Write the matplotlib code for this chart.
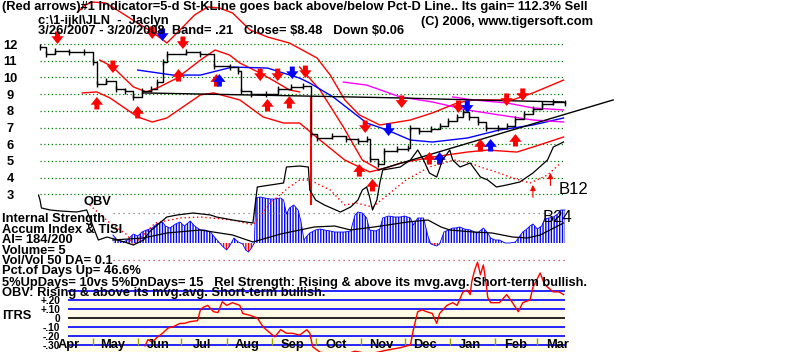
import numpy as np
import matplotlib.pyplot as plt

plt.rcParams['font.family'] = ['Liberation Sans Narrow', 'Liberation Sans', 'DejaVu Sans']
plt.rcParams['hatch.linewidth'] = 1.0

# x values are calendar days after 3/26/2007
price_day = [0, 4, 10, 20, 30, 36, 39, 45, 52, 58, 64, 70, 76, 80, 84, 87, 100, 110, 119, 130,
             136, 138, 145, 155, 163, 172, 180, 186, 190, 200, 210, 218, 224, 226, 232, 236, 245,
             252, 254, 260, 268, 274, 280, 286, 290, 294, 300, 306, 314, 320, 326, 332, 338, 344,
             352, 360]
price_val = [11.8, 11.4, 11.6, 11.5, 11.5, 10.9, 9.6, 9.8, 9.3, 9.2, 8.8, 9.2, 9.3, 9.7, 10.9,
             11.4, 11.5, 11.4, 10.7, 10.6, 10.4, 9.2, 9.0, 9.0, 9.3, 9.4, 9.5, 6.6, 6.4, 6.5, 6.3,
             6.2, 6.3, 5.1, 4.8, 5.6, 5.7, 5.8, 7.0, 6.8, 6.9, 7.1, 7.4, 7.6, 7.9, 7.6, 7.3, 7.0,
             7.0, 7.1, 7.5, 7.8, 8.1, 8.4, 8.5, 8.48]

upper_day = [26, 31, 36, 45, 55, 69, 77, 87, 96, 106, 115, 123, 132, 144, 156, 171, 190, 199,
             209, 219, 233, 254, 269, 286, 297, 324, 338, 359]
upper_val = [13.92, 14.34, 14.51, 14.46, 13.92, 13.14, 12.72, 12.06, 12.84, 13.74, 14.22, 14.16,
             13.86, 12.84, 12.42, 12.06, 11.16, 10.14, 8.65, 7.75, 7.15, 7.45, 7.87, 8.47, 8.65,
             8.65, 9.07, 9.84]
lower_day = [29, 39, 48, 67, 77, 87, 110, 119, 137, 153, 167, 178, 192, 209, 226, 237, 247, 269,
             293, 307, 327, 338, 359]
lower_val = [9.07, 9.13, 8.77, 7.63, 7.33, 7.57, 8.95, 9.07, 8.65, 7.63, 7.27, 7.27, 6.25, 5.05,
             4.34, 4.57, 4.87, 5.23, 5.53, 5.65, 5.53, 5.83, 6.43]
inner_day = [41, 50, 64, 73, 82, 94, 110, 120, 130, 137, 151, 163, 171, 178]
inner_val = [11.04, 10.62, 9.43, 9.13, 9.43, 9.96, 11.04, 11.64, 11.34, 10.86, 10.26, 9.66,
             9.25, 9.13]
drop_day = [178, 192, 208, 221, 233]
drop_val = [10.62, 9.25, 7.03, 5.05, 4.46]

ma_day = [67, 91, 110, 132, 156, 178, 185, 201, 224, 238, 254, 269, 293, 315, 338, 359]
ma_val = [10.44, 10.14, 10.14, 10.62, 10.56, 9.96, 9.66, 8.83, 7.27, 6.85, 6.25, 6.13, 6.37,
          6.85, 7.15, 7.57]
mag1_day = [208, 224, 247, 269, 293, 315, 338, 359]
mag1_val = [9.72, 9.54, 8.83, 8.53, 8.05, 7.75, 7.45, 7.33]
mag2_day = [283, 297, 320, 338, 359]
mag2_val = [8.83, 8.65, 8.47, 8.17, 8.05]
flat_day = [71, 178, 247, 297, 359]
flat_val = [9.07, 8.89, 8.77, 8.65, 8.53]
trend_day = [232, 393]
trend_val = [4.46, 8.65]

# arrows: (day, price at tip)
red_down = [(12, 12.0), (50, 10.26), (77, 12.3), (98, 11.7), (151, 9.78), (163, 9.78),
            (182, 9.96), (223, 6.67), (248, 8.17), (287, 7.87), (320, 8.29), (331, 8.59)]
blue_down = [(84, 12.18), (173, 9.9), (239, 6.49), (293, 7.87)]
red_up = [(39, 8.83), (67, 8.29), (95, 10.5), (121, 10.2), (156, 8.71), (171, 8.89),
          (219, 4.81), (228, 3.92), (267, 5.53), (302, 6.31), (326, 6.61)]
blue_up = [(123, 10.2), (274, 5.53), (309, 6.31)]
thin_up = [(338, 3.56), (350, 4.28)]

# lower panel: OBV, Accum index, TISI average, OBV average
obv_day = [-1, 0, 1, 7, 14, 25, 32, 36, 40, 46, 53, 58, 64, 71, 75, 82, 87, 94, 105, 117, 121,
           132, 146, 149, 158, 167, 169, 178, 184, 185, 189, 195, 206, 213, 218, 221, 224, 226,
           228, 231, 233, 235, 247, 254, 259, 263, 267, 272, 276, 281, 283, 288, 295, 302, 307,
           313, 320, 329, 338, 348, 352, 359]
obv_val = [48, 43, 35, 33, 32, 31, 33, 18, 3, 6, 3, 1, -2, 3, 11, 20, 26, 28, 30, 28, 26, 23,
           20, 56, 58, 60, 76, 77, 76, 53, 43, 38, 31, 36, 43, 53, 56, 46, 33, 43, 60, 73, 76,
           83, 93, 83, 70, 66, 83, 93, 83, 76, 80, 66, 63, 56, 58, 61, 70, 83, 96, 101]
obvma_day = [34, 48, 60, 64, 79, 96, 110, 132, 146, 158, 171, 178, 185, 199, 209, 217, 228, 240,
             251, 267, 284, 295, 302, 313, 324, 336, 348, 357]
obvma_val = [38, 20, 8, -2, 20, 25, 26, 23, 18, 40, 56, 63, 63, 53, 38, 40, 36, 50, 63, 76, 83,
             80, 76, 71, 65, 60, 68, 80]
ai_day = [50, 53, 57, 60, 64, 67, 70, 73, 77, 80, 84, 86, 89, 93, 96, 99, 103, 106, 110, 113,
          117, 119, 122, 125, 128, 130, 133, 136, 139, 141, 143, 145, 147, 148, 151, 154, 158,
          161, 165, 167, 169, 171, 174, 177, 179, 181, 183, 185, 189, 192, 195, 199, 202, 206,
          209, 213, 216, 218, 221, 224, 226, 230, 233, 235, 239, 243, 247, 250, 254, 256, 259,
          263, 266, 268, 272, 274, 277, 280, 283, 285, 288, 291, 295, 298, 300, 304, 307, 309,
          312, 315, 319, 322, 326, 328, 331, 333, 336, 338, 341, 344, 346, 349, 352, 355, 357,
          360]
ai_val = [8, 3, 1, 3, 9, 7, 11, 13, 15, 19, 21, 17, 15, 19, 21, 17, 22, 17, 13, 13, 11, 7, 2,
          -3, -7, -3, 5, 1, -1, -7, -9, -5, 0, 45, 46, 45, 44, 44, 45, 43, 29, 35, 38, 33, 21, 3,
          7, 10, 13, 14, 13, 12, 11, 11, 11, 12, 28, 31, 30, 25, 13, 12, 14, 25, 27, 26, 26, 27,
          25, 18, 25, 25, 7, -1, -3, -1, 11, 13, 15, 15, 16, 14, 13, 11, 10, 15, 10, 5, 3, 3, 0,
          0, 1, 5, 11, 13, 17, 19, 14, 17, 24, 25, 26, 29, 33, 33]
tisi_day = [50, 71, 87, 110, 132, 146, 165, 188, 202, 213, 229, 252, 266, 275, 281, 297, 310,
            324, 334, 343, 359]
tisi_val = [3, 5, 10, 13, 8, 1, 9, 16, 17, 13, 16, 21, 23, 16, 13, 11, 10, 6, 5, 8, 20]

# ITRS
itrs_day = [72, 74, 77, 80, 84, 88, 91, 96, 99, 103, 108, 110, 112, 115, 119, 122, 125, 128,
            132, 137, 139, 144, 149, 153, 158, 161, 165, 169, 173, 178, 183, 185, 187, 192, 206,
            216, 226, 237, 247, 254, 256, 259, 262, 265, 269, 272, 274, 279, 283, 286, 290, 293,
            295, 296, 298, 300, 302, 304, 306, 307, 309, 315, 320, 324, 328, 331, 336, 338, 343,
            346, 352, 356, 359]
itrs_val = [-0.31, -0.24, -0.27, -0.22, -0.17, -0.11, -0.10, -0.06, -0.06, -0.04, -0.03, 0.09,
            0.12, 0.14, 0.07, 0.06, 0.18, 0.14, 0.17, 0.14, 0.05, 0.03, 0.0, -0.10, -0.17, -0.21,
            -0.13, -0.17, -0.17, -0.19, -0.13, -0.17, -0.32, -0.38, -0.42, -0.37, -0.40, -0.36,
            -0.33, -0.30, -0.13, 0.07, 0.09, 0.07, 0.05, -0.06, 0.05, 0.14, 0.17, 0.14, 0.29,
            0.31, 0.26, 0.40, 0.53, 0.62, 0.48, 0.59, 0.37, 0.23, 0.17, 0.17, 0.26, 0.17, 0.07,
            0.17, 0.20, 0.34, 0.50, 0.37, 0.29, 0.29, 0.26]
itrs_levels = [0.3, 0.2, 0.1, 0.0, -0.1, -0.2, -0.3]
itrs_ticks = [0.2, 0.1, 0.0, -0.1, -0.2, -0.3]
itrs_labels = ['+.20', '+.10', '0', '-.10', '-.20', '-.30']

start = np.datetime64('2007-03-26')
month_names = ['Apr', 'May', 'Jun', 'Jul', 'Aug', 'Sep', 'Oct', 'Nov', 'Dec', 'Jan', 'Feb', 'Mar']
month_mid = [(np.datetime64(m) - start).astype(int) for m in
             ['2007-04-15', '2007-05-15', '2007-06-15', '2007-07-15', '2007-08-15', '2007-09-15',
              '2007-10-15', '2007-11-15', '2007-12-15', '2008-01-15', '2008-02-15', '2008-03-15']]
month_start = [(np.datetime64(m) - start).astype(int) for m in
               ['2007-05-01', '2007-06-01', '2007-07-01', '2007-08-01', '2007-09-01', '2007-10-01',
                '2007-11-01', '2007-12-01', '2008-01-01', '2008-02-01', '2008-03-01']]

W, H = 800, 352
fig = plt.figure(figsize=(8, 3.52), dpi=100)
XL = (-1.37, 397.7)
RED, BLUE = '#ff0000', '#0000ff'
bold = dict(fontweight='bold', fontsize=9.3, color='black')


def px_axes(top, bottom, left=38, right=620):
    ax = fig.add_axes([left / W, 1 - bottom / H, (right - left) / W, (bottom - top) / H])
    ax.patch.set_visible(False)
    for s in ax.spines.values():
        s.set_visible(False)
    ax.set_xticks([])
    ax.set_xlim(*XL)
    return ax


# ---- price panel
axp = px_axes(0, 255)
axp.set_ylim(-0.635, 14.635)
axp.set_yticks(range(3, 13))
axp.set_yticklabels([str(v) for v in range(3, 13)], **bold)
axp.tick_params(axis='y', length=0, pad=20)
for lab in axp.get_yticklabels():
    lab.set_horizontalalignment('center')
axp.hlines(range(3, 13), 0, 360, colors='#008000', linestyles=(0, (1, 2)), lw=0.9)

axp.plot(upper_day, upper_val, color=RED, lw=1)
axp.plot(lower_day, lower_val, color=RED, lw=1)
axp.plot(inner_day, inner_val, color=RED, lw=1)
axp.plot(drop_day, drop_val, color=RED, lw=1)
axp.plot(ma_day, ma_val, color=BLUE, lw=1)
axp.plot(mag1_day, mag1_val, color='#ff00ff', lw=1)
axp.plot(mag2_day, mag2_val, color='#ff00ff', lw=1)
axp.plot(flat_day, flat_val, color='black', lw=1)
axp.plot(trend_day, trend_val, color='black', lw=1)
axp.vlines(186, 2.36, 8.83, colors=RED, lw=1.5)
axp.plot(price_day, price_val, color='black', lw=1, drawstyle='steps-post',
         marker='|', markersize=4, markevery=1)


def arrow(ax, d, p, up, color, thin=False):
    style = '-|>' if thin else 'simple,head_width=1.1,head_length=0.7,tail_width=0.45'
    ax.annotate('', xy=(d, p), xytext=(0, -9 if up else 9), textcoords='offset points',
                arrowprops=dict(arrowstyle=style, color=color, lw=0.8 if thin else 0,
                                shrinkA=0, shrinkB=0, mutation_scale=8))


for d, p in red_down:
    arrow(axp, d, p, False, RED)
for d, p in blue_down:
    arrow(axp, d, p, False, BLUE)
for d, p in red_up:
    arrow(axp, d, p, True, RED)
for d, p in blue_up:
    arrow(axp, d, p, True, BLUE)
for d, p in thin_up:
    arrow(axp, d, p, True, RED, thin=True)

# ---- accumulation panel
axm = px_axes(135, 285)
axm.set_ylim(-42, 108)
axm.set_yticks([])
axm.hlines(30, 50, 360, colors='#808080', linestyles=(0, (1, 3)), lw=0.9)
axm.hlines(-17, 50, 360, colors='#c04040', linestyles=(0, (1, 3)), lw=0.9)
ai = np.array(ai_val, dtype=float)
axm.fill_between(ai_day, 0, ai, where=ai >= 0, interpolate=True, facecolor='none',
                 edgecolor=BLUE, hatch='||||||', lw=0)
axm.fill_between(ai_day, 0, ai, where=ai <= 0, interpolate=True, facecolor='none',
                 edgecolor=RED, hatch='||||||', lw=0)
axm.plot(ai_day, ai, color=BLUE, lw=0.6)
axm.plot(tisi_day, tisi_val, color='black', lw=0.9)
axm.plot(obvma_day, obvma_val, color=RED, lw=1, linestyle=(0, (1, 2)))
axm.plot(obv_day, obv_val, color='black', lw=0.9)

# ---- ITRS panel
axi = px_axes(255, 352)
axi.set_ylim(-0.378, 0.70)
axi.fill_between([19, 360], -0.378, 0.27, color='#fffbe6', lw=0)
axi.hlines([v for v in itrs_levels if v != 0], 19, 360, colors=BLUE, lw=1.2)
axi.hlines(0, 19, 360, colors='black', lw=1.2)
axi.vlines(month_start, -0.3, -0.22, colors='#a0a000', lw=1)
axi.plot(itrs_day, itrs_val, color=RED, lw=1)
axi.set_yticks(itrs_ticks)
axi.set_yticklabels(itrs_labels, fontweight='bold', fontsize=7.3)
axi.tick_params(axis='y', length=0, pad=-16)
for m, d in zip(month_names, month_mid):
    axi.text(d, -0.30, m, ha='center', va='center', **bold)


def ftext(x, y, s, **kw):
    opts = dict(bold)
    opts.update(kw)
    fig.text(x / W, 1 - y / H, s, va='center', ha='left', **opts)


ftext(2, 7, '(Red arrows)#1 Indicator=5-d St-KLine goes back above/below Pct-D Line.. '
            'Its gain= 112.3% Sell')
ftext(38, 21, 'c:\\1-ijkl\\JLN  -  Jaclyn')
ftext(38, 31, '3/26/2007 - 3/20/2008  Band= .21   Close= \\$8.48   Down \\$0.06')
ftext(421, 22, '(C) 2006, www.tigersoft.com')
ftext(84, 202, 'OBV')
ftext(2, 219, 'Internal Strength')
ftext(2, 230, 'Accum Index & TISI')
ftext(2, 240, 'AI= 184/200')
ftext(2, 251, 'Volume= 5')
ftext(2, 261, 'Vol/Vol 50 DA= 0.1')
ftext(2, 271, 'Pct.of Days Up= 46.6%')
ftext(2, 283, '5%UpDays= 10vs 5%DnDays= 15   Rel Strength: Rising & above its mvg.avg. '
              'Short-term bullish.')
ftext(2, 293, 'OBV: Rising & above its mvg.avg. Short-term bullish.')
ftext(2, 316, 'ITRS')
ftext(559, 189, 'B12', fontweight='normal', fontsize=12, family=['Liberation Sans'])
ftext(543, 217, 'B24', fontweight='normal', fontsize=12, family=['Liberation Sans'])

fig.savefig('out.png', dpi=100)
